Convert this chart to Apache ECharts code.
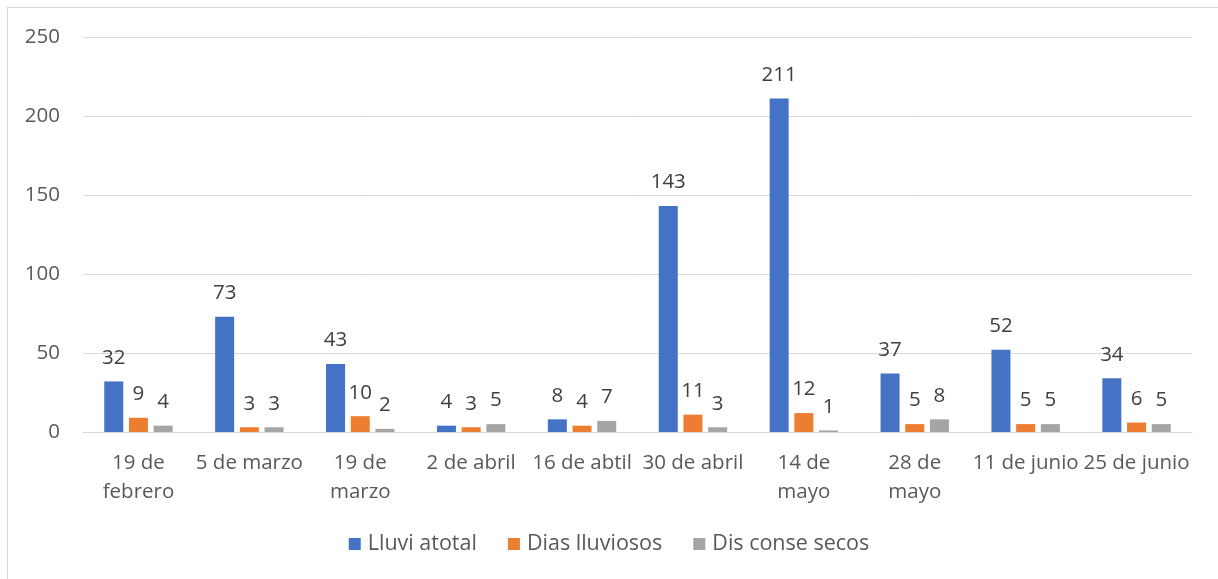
<!DOCTYPE html>
<html>
<head>
<meta charset="utf-8">
<script src="https://cdn.jsdelivr.net/npm/echarts@6/dist/echarts.min.js"></script>
<style>
  html, body { margin: 0; padding: 0; background: #fff; }
  #frame { position: absolute; left: 7px; top: 7px; width: 1220px; height: 580px; border: 1px solid #d9d9d9; box-sizing: border-box; }
  #chart { position: absolute; left: 0; top: 0; width: 1218px; height: 579px; }
</style>
</head>
<body>
<div id="frame"></div>
<div id="chart"></div>
<script>
const categories = ['19 de\nfebrero', '5 de marzo', '19 de\nmarzo', '2 de abril', '16 de abtil', '30 de abril', '14 de\nmayo', '28 de\nmayo', '11 de junio', '25 de junio'];
const lluviaTotal = [32, 73, 43, 4, 8, 143, 211, 37, 52, 34];
const diasLluviosos = [9, 3, 10, 3, 4, 11, 12, 5, 5, 6];
const diasSecos = [4, 3, 2, 5, 7, 3, 1, 8, 5, 5];
const yTicks = [0, 50, 100, 150, 200, 250];

const font = '"Open Sans", "Noto Sans", sans-serif';
const fs = 20.5;
const chart = echarts.init(document.getElementById('chart'));

const mkSeries = (name, data, color) => ({
  name, type: 'bar', data,
  barWidth: 19,
  barGap: '30%',
  itemStyle: { color },
  label: { show: true, position: 'top', distance: 13, color: '#404040', fontSize: fs, fontFamily: font }
});

chart.setOption({
  animation: false,
  textStyle: { fontFamily: font },
  grid: { left: 83, right: 26, top: 37, bottom: 147 },
  legend: {
    bottom: 19, left: 'center',
    itemWidth: 12, itemHeight: 12, itemGap: 31,
    icon: 'rect',
    textStyle: { color: '#595959', fontSize: 21.5, fontFamily: font, padding: [0, 0, 0, 2] }
  },
  xAxis: {
    type: 'category', data: categories,
    axisLine: { lineStyle: { color: '#d9d9d9', width: 1 } },
    axisTick: { show: false },
    axisLabel: { color: '#595959', fontSize: fs, fontFamily: font, lineHeight: 29, margin: 17, interval: 0 }
  },
  yAxis: {
    type: 'value', min: yTicks[0], max: yTicks[yTicks.length - 1], interval: 50,
    axisLine: { show: false }, axisTick: { show: false },
    splitLine: { lineStyle: { color: '#d9d9d9' } },
    axisLabel: { color: '#595959', fontSize: fs, fontFamily: font, margin: 23 }
  },
  series: [
    mkSeries('Lluvi atotal', lluviaTotal, '#4472c4'),
    mkSeries('Dias lluviosos', diasLluviosos, '#ed7d31'),
    mkSeries('Dis conse secos', diasSecos, '#a5a5a5')
  ]
});
</script>
</body>
</html>
